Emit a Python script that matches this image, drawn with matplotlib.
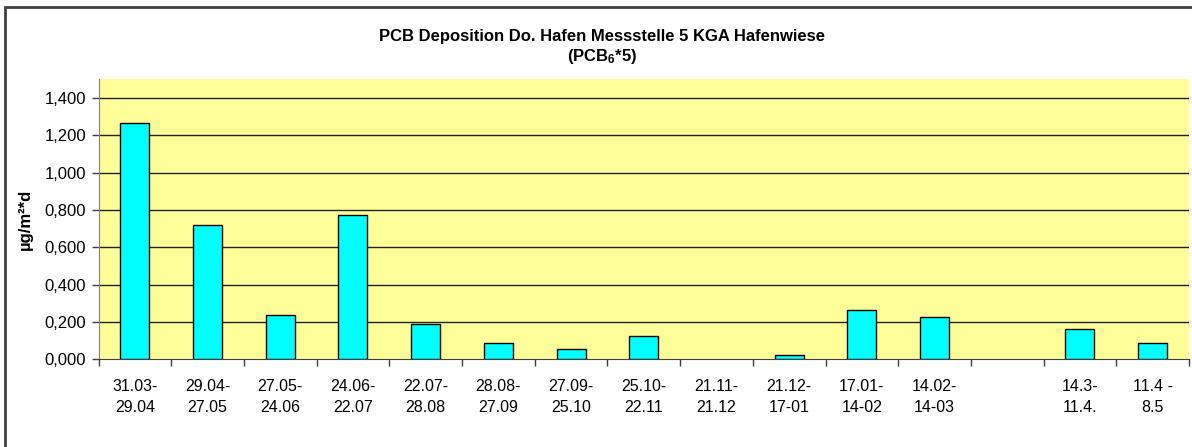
import matplotlib.pyplot as plt
import numpy as np
from matplotlib.patches import Rectangle

# DATA
periods = ['31.03-\n29.04', '29.04-\n27.05', '27.05-\n24.06', '24.06-\n22.07',
           '22.07-\n28.08', '28.08-\n27.09', '27.09-\n25.10', '25.10-\n22.11',
           '21.11-\n21.12', '21.12-\n17-01', '17.01-\n14-02', '14.02-\n14-03',
           '', '14.3-\n11.4.', '11.4 -\n8.5']
deposition = [1.267, 0.721, 0.240, 0.773, 0.188, 0.087, 0.057, 0.123,
              np.nan, 0.023, 0.264, 0.227, np.nan, 0.165, 0.086]
yTicks = [0.0, 0.2, 0.4, 0.6, 0.8, 1.0, 1.2, 1.4]

plt.rcParams['font.family'] = ['Liberation Sans', 'DejaVu Sans']
plt.rcParams['mathtext.default'] = 'regular'

W, H = 1192, 447
fig = plt.figure(figsize=(W / 100, H / 100), dpi=100)
ax = fig.add_axes([98.5 / W, 1 - 359.3 / H, (1189 - 98.5) / W, 280 / H])

# outer chart frame (cropped at right and bottom)
fig.patches.append(Rectangle((5 / W, -0.1), 1.2, 1 - 7 / H + 0.1, transform=fig.transFigure,
                             fill=False, edgecolor='#404040', linewidth=2))

x = np.arange(len(periods))
ax.set_facecolor('#FFFF99')
ax.bar(x, deposition, width=0.4, color='#00FFFF', edgecolor='black', linewidth=1, zorder=3)

ax.set_xlim(-0.5, len(periods) - 0.5)
ax.set_ylim(0, 1.5)
ax.set_yticks(yTicks)
ax.set_yticklabels([('%.3f' % v).replace('.', ',') for v in yTicks], fontsize=12)
ax.set_xticks(x)
ax.set_xticklabels(periods, fontsize=11.5, linespacing=1.55)
ax.set_xticks(np.arange(len(periods) + 1) - 0.5, minor=True)
ax.tick_params(axis='x', which='major', length=0, pad=14)
ax.tick_params(axis='x', which='minor', length=5, width=1, color='#404040')
ax.tick_params(axis='y', length=5, width=1, color='#404040', pad=4)

for yv in yTicks[1:]:
    ax.axhline(yv, color='#222222', linewidth=1, zorder=1)

for side in ['top', 'right']:
    ax.spines[side].set_visible(False)
ax.spines['left'].set_color('#808080')
ax.spines['bottom'].set_color('#404040')

ax.set_ylabel('µg/m²*d', fontsize=12, fontweight='bold', labelpad=8)

fig.text(602 / W, 1 - 37 / H, 'PCB Deposition Do. Hafen Messstelle 5 KGA Hafenwiese',
         ha='center', va='center', fontsize=12, fontweight='bold')
fig.text(602 / W, 1 - 57 / H, '(PCB$_6$*5)', ha='center', va='center',
         fontsize=12, fontweight='bold')

plt.savefig('out.png', dpi=100)
